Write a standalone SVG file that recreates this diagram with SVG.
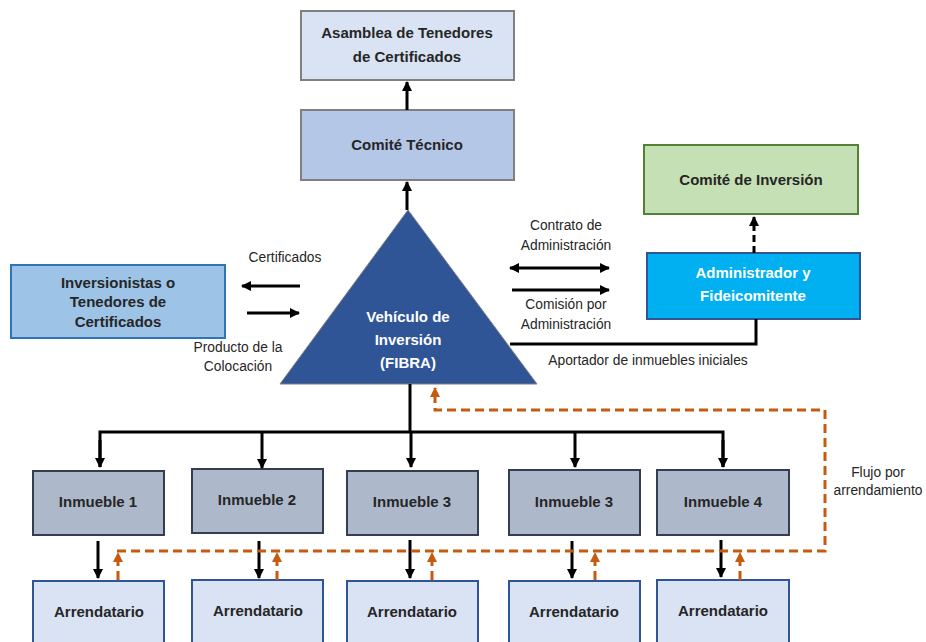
<svg xmlns="http://www.w3.org/2000/svg" width="926" height="642" viewBox="0 0 926 642">
  <style>
    .t { font-family: "Liberation Sans", Arial, sans-serif; font-size: 15px; font-weight: bold; fill: #262626; text-anchor: middle; }
    .w { fill: #ffffff; }
    .lbl { font-family: "Liberation Sans", Arial, sans-serif; font-size: 13.8px; fill: #262626; text-anchor: middle; }
    .gov { fill: #dae3f3; stroke: #808080; stroke-width: 2; }
    .tec { fill: #b4c7e7; stroke: #808080; stroke-width: 2; }
    .inm { fill: #adb9ca; stroke: #333f50; stroke-width: 2; }
    .arr { fill: #dae3f3; stroke: #2f5597; stroke-width: 2; }
    .ln { fill: none; stroke: #000000; stroke-width: 3; }
    .or { fill: none; stroke: #c55a11; stroke-width: 3; stroke-dasharray: 9 5; }
  </style>
  <defs>
    <marker id="ah" viewBox="0 0 10 10" refX="9" refY="5" markerWidth="10" markerHeight="10" markerUnits="userSpaceOnUse" orient="auto-start-reverse">
      <path d="M0,0 L10,5 L0,10 z" fill="#000000"/>
    </marker>
    <marker id="ao" viewBox="0 0 10 10" refX="9" refY="5" markerWidth="10" markerHeight="10" markerUnits="userSpaceOnUse" orient="auto">
      <path d="M0,0 L10,5 L0,10 z" fill="#c55a11"/>
    </marker>
  </defs>

  <g id="asamblea">
    <rect class="gov" x="301" y="11" width="213" height="69"/>
    <text class="t" x="407" y="38">Asamblea de Tenedores</text>
    <text class="t" x="407" y="62">de Certificados</text>
  </g>
  <g id="comite-tecnico">
    <rect class="tec" x="301" y="110" width="213" height="70"/>
    <text class="t" x="407" y="150">Comité Técnico</text>
  </g>
  <g id="inversionistas">
    <rect x="11" y="265" width="214" height="73" fill="#9dc3e6" stroke="#2e75b6" stroke-width="2"/>
    <text class="t" x="118" y="288">Inversionistas o</text>
    <text class="t" x="118" y="307">Tenedores de</text>
    <text class="t" x="118" y="327">Certificados</text>
  </g>
  <g id="fibra">
    <polygon points="408,210 280,384 537,384" fill="#2f5597" stroke="#7f7f7f" stroke-width="1"/>
    <text class="t w" x="408" y="322">Vehículo de</text>
    <text class="t w" x="408" y="345">Inversión</text>
    <text class="t w" x="408" y="368">(FIBRA)</text>
  </g>
  <g id="comite-inversion">
    <rect x="644" y="145" width="214" height="69" fill="#c5e0b4" stroke="#548235" stroke-width="2"/>
    <text class="t" x="751" y="185">Comité de Inversión</text>
  </g>
  <g id="administrador">
    <rect x="647" y="253" width="213" height="66" fill="#00b0f0" stroke="#2f5597" stroke-width="2"/>
    <text class="t w" x="753" y="278">Administrador y</text>
    <text class="t w" x="753" y="301">Fideicomitente</text>
  </g>

  <g id="inmueble-1"><rect class="inm" x="33" y="471" width="131" height="64"/><text class="t" x="98" y="507">Inmueble 1</text></g>
  <g id="inmueble-2"><rect class="inm" x="192" y="469" width="131" height="64"/><text class="t" x="257" y="505">Inmueble 2</text></g>
  <g id="inmueble-3a"><rect class="inm" x="347" y="471" width="131" height="64"/><text class="t" x="412" y="507">Inmueble 3</text></g>
  <g id="inmueble-3b"><rect class="inm" x="509" y="470" width="131" height="65"/><text class="t" x="574" y="507">Inmueble 3</text></g>
  <g id="inmueble-4"><rect class="inm" x="657" y="470" width="132" height="65"/><text class="t" x="723" y="507">Inmueble 4</text></g>

  <g id="arrendatario-1"><rect class="arr" x="33" y="581" width="131" height="70"/><text class="t" x="99" y="617">Arrendatario</text></g>
  <g id="arrendatario-2"><rect class="arr" x="192" y="580" width="131" height="70"/><text class="t" x="258" y="616">Arrendatario</text></g>
  <g id="arrendatario-3"><rect class="arr" x="347" y="581" width="131" height="70"/><text class="t" x="412" y="617">Arrendatario</text></g>
  <g id="arrendatario-4"><rect class="arr" x="509" y="581" width="131" height="70"/><text class="t" x="574" y="617">Arrendatario</text></g>
  <g id="arrendatario-5"><rect class="arr" x="657" y="580" width="132" height="70"/><text class="t" x="723" y="616">Arrendatario</text></g>

  <g id="connectors">
    <!-- governance chain -->
    <line class="ln" x1="407" y1="110" x2="407" y2="82" marker-end="url(#ah)"/>
    <line class="ln" x1="407" y1="210" x2="407" y2="182" marker-end="url(#ah)"/>
    <!-- investors exchange -->
    <line class="ln" x1="300" y1="286" x2="242" y2="286" marker-end="url(#ah)"/>
    <line class="ln" x1="247" y1="313" x2="299" y2="313" marker-end="url(#ah)"/>
    <!-- administrator exchange -->
    <line class="ln" x1="510" y1="268" x2="609" y2="268" marker-start="url(#ah)" marker-end="url(#ah)"/>
    <line class="ln" x1="512" y1="290" x2="609" y2="290" marker-end="url(#ah)"/>
    <line class="ln" x1="754" y1="253" x2="754" y2="217" stroke-dasharray="7 4" marker-end="url(#ah)"/>
    <polyline class="ln" points="756,319 756,344 510,344"/>
    <!-- distribution to properties -->
    <line class="ln" x1="410" y1="384" x2="410" y2="432"/>
    <polyline class="ln" points="100,467 100,432 723,432 723,467"/>
    <line class="ln" x1="100" y1="440" x2="100" y2="467" marker-end="url(#ah)"/>
    <line class="ln" x1="262" y1="432" x2="262" y2="468" marker-end="url(#ah)"/>
    <line class="ln" x1="411" y1="432" x2="411" y2="467" marker-end="url(#ah)"/>
    <line class="ln" x1="575" y1="432" x2="575" y2="467" marker-end="url(#ah)"/>
    <line class="ln" x1="723" y1="440" x2="723" y2="467" marker-end="url(#ah)"/>
    <!-- properties to tenants -->
    <line class="ln" x1="98" y1="541" x2="98" y2="578" marker-end="url(#ah)"/>
    <line class="ln" x1="259" y1="541" x2="259" y2="578" marker-end="url(#ah)"/>
    <line class="ln" x1="410" y1="540" x2="410" y2="578" marker-end="url(#ah)"/>
    <line class="ln" x1="572" y1="541" x2="572" y2="578" marker-end="url(#ah)"/>
    <line class="ln" x1="721" y1="540" x2="721" y2="577" marker-end="url(#ah)"/>
    <!-- rental flow back to the vehicle -->
    <polyline class="or" points="117,551 825,551 825,410 435,410 435,388" marker-end="url(#ao)"/>
    <line class="or" x1="118" y1="580" x2="118" y2="553" stroke-dasharray="6 4" marker-end="url(#ao)"/>
    <line class="or" x1="277" y1="580" x2="277" y2="553" stroke-dasharray="6 4" marker-end="url(#ao)"/>
    <line class="or" x1="432" y1="580" x2="432" y2="553" stroke-dasharray="6 4" marker-end="url(#ao)"/>
    <line class="or" x1="595" y1="580" x2="595" y2="553" stroke-dasharray="6 4" marker-end="url(#ao)"/>
    <line class="or" x1="740" y1="580" x2="740" y2="553" stroke-dasharray="6 4" marker-end="url(#ao)"/>
  </g>

  <g id="labels">
    <text class="lbl" x="285" y="262">Certificados</text>
    <text class="lbl" x="238" y="352">Producto de la</text>
    <text class="lbl" x="238" y="371">Colocación</text>
    <text class="lbl" x="566" y="230">Contrato de</text>
    <text class="lbl" x="566" y="250">Administración</text>
    <text class="lbl" x="566" y="309">Comisión por</text>
    <text class="lbl" x="566" y="329">Administración</text>
    <text class="lbl" x="648" y="365">Aportador de inmuebles iniciales</text>
    <text class="lbl" x="878" y="477">Flujo por</text>
    <text class="lbl" x="878" y="495">arrendamiento</text>
  </g>
</svg>
